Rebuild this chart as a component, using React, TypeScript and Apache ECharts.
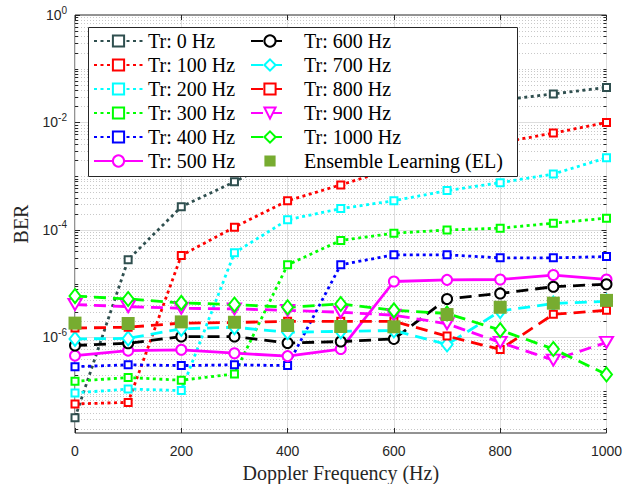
import React, { useEffect, useRef } from 'react';
import * as echarts from 'echarts';

// Doppler frequency (Hz)
const freq = [0, 100, 200, 300, 400, 500, 600, 700, 800, 900, 1000];

// BER values
const berTr0 = [3.2e-8, 2.8e-5, 2.7e-4, 7.9e-4, 2.5e-3, 6.0e-3, 1.1e-2, 1.7e-2, 2.6e-2, 3.4e-2, 4.5e-2];
const berTr100 = [5.8e-8, 6.2e-8, 3.35e-5, 1.13e-4, 3.5e-4, 6.9e-4, 1.4e-3, 2.5e-3, 4.2e-3, 6.35e-3, 1.0e-2];
const berTr200 = [9.3e-8, 1.1e-7, 1.03e-7, 3.76e-5, 1.55e-4, 2.5e-4, 3.5e-4, 5.4e-4, 7.6e-4, 1.1e-3, 2.2e-3];
const berTr300 = [1.53e-7, 1.8e-7, 1.6e-7, 2.1e-7, 2.25e-5, 6.4e-5, 8.7e-5, 1.0e-4, 1.08e-4, 1.34e-4, 1.66e-4];
const berTr400 = [2.86e-7, 3.1e-7, 3.0e-7, 3.1e-7, 3.0e-7, 2.25e-5, 3.45e-5, 3.45e-5, 3.03e-5, 3.03e-5, 3.2e-5];
const berTr500 = [4.6e-7, 5.7e-7, 5.9e-7, 5.1e-7, 4.5e-7, 6.1e-7, 1.1e-5, 1.18e-5, 1.2e-5, 1.45e-5, 1.2e-5];
const berTr600 = [7.1e-7, 7.8e-7, 1.04e-6, 1.04e-6, 7.9e-7, 8.4e-7, 9.4e-7, 5.2e-6, 6.6e-6, 8.8e-6, 9.8e-6];
const berTr700 = [9.4e-7, 9.6e-7, 1.45e-6, 1.55e-6, 1.25e-6, 1.3e-6, 1.35e-6, 7.4e-7, 3.1e-6, 4.3e-6, 4.7e-6];
const berTr800 = [1.5e-6, 1.55e-6, 1.85e-6, 1.9e-6, 2.0e-6, 2.0e-6, 2.0e-6, 1.06e-6, 6.0e-7, 2.7e-6, 3.2e-6];
const berTr900 = [4.1e-6, 3.75e-6, 3.5e-6, 3.4e-6, 3.2e-6, 2.95e-6, 2.6e-6, 1.8e-6, 8.1e-7, 3.8e-7, 8.1e-7];
const berTr1000 = [5.9e-6, 5.2e-6, 4.4e-6, 4.1e-6, 3.65e-6, 4.2e-6, 3.2e-6, 2.8e-6, 1.37e-6, 6.1e-7, 2.05e-7];
const berEL = [1.85e-6, 1.82e-6, 1.95e-6, 1.92e-6, 1.67e-6, 1.6e-6, 1.58e-6, 2.67e-6, 3.65e-6, 4.35e-6, 4.9e-6];

const seriesNames = [
  'Tr: 0 Hz', 'Tr: 100 Hz', 'Tr: 200 Hz', 'Tr: 300 Hz', 'Tr: 400 Hz', 'Tr: 500 Hz',
  'Tr: 600 Hz', 'Tr: 700 Hz', 'Tr: 800 Hz', 'Tr: 900 Hz', 'Tr: 1000 Hz', 'Ensemble Learning (EL)',
];

const xMin = 0;
const xMax = 1000;
const xStep = 200;
const yMin = 1.67e-8;
const yMax = 1;

const AXIS = '#262626';
const SERIF = '"Liberation Serif", "Times New Roman", serif';
const SANS = '"Liberation Sans", Arial, Helvetica, sans-serif';

const DOT: number[] = [3, 3.5];
const DASH: number[] = [12, 7];

export default function App() {
  const ref = useRef<HTMLDivElement>(null);

  useEffect(() => {
    if (!ref.current) return;
    const chart = echarts.init(ref.current, null, { renderer: 'svg' });

    const styles = [
      { data: berTr0, color: '#2F4F4F', dash: DOT, symbol: 'emptyRect', size: 7 },
      { data: berTr100, color: '#FF0000', dash: DOT, symbol: 'emptyRect', size: 7 },
      { data: berTr200, color: '#00FFFF', dash: DOT, symbol: 'emptyRect', size: 7 },
      { data: berTr300, color: '#00FF00', dash: DOT, symbol: 'emptyRect', size: 7 },
      { data: berTr400, color: '#0000FF', dash: DOT, symbol: 'emptyRect', size: 7 },
      { data: berTr500, color: '#FF00FF', dash: 'solid', symbol: 'emptyCircle', size: 10 },
      { data: berTr600, color: '#000000', dash: DASH, symbol: 'emptyCircle', size: 10 },
      { data: berTr700, color: '#00FFFF', dash: DASH, symbol: 'emptyDiamond', size: [11, 14] },
      { data: berTr800, color: '#FF0000', dash: DASH, symbol: 'emptyRect', size: 7 },
      { data: berTr900, color: '#FF00FF', dash: DASH, symbol: 'emptyTriangle', size: [13, 11], rotate: 180 },
      { data: berTr1000, color: '#00FF00', dash: DASH, symbol: 'emptyDiamond', size: [11, 14] },
    ];

    const lineSeries: any[] = styles.map((s, i) => ({
      name: seriesNames[i],
      type: 'line',
      data: freq.map((f, k) => [f, s.data[k]]),
      symbol: s.symbol,
      symbolSize: s.size,
      symbolRotate: (s as any).rotate || 0,
      showAllSymbol: true,
      color: s.color,
      lineStyle: { color: s.color, width: 2.8, type: s.dash as any, cap: 'butt' },
      itemStyle: { color: s.color, borderColor: s.color, borderWidth: s.symbol === 'emptyRect' ? 3 : 2.5 },
      z: 3,
      clip: false,
    }));

    lineSeries.push({
      name: seriesNames[11],
      type: 'line',
      data: freq.map((f, k) => [f, berEL[k]]),
      symbol: 'rect',
      symbolSize: 13,
      color: '#77AC30',
      lineStyle: { width: 0, opacity: 0 },
      itemStyle: { color: '#77AC30' },
      z: 3,
      clip: false,
    });

    // y grid / tick positions of a MATLAB log axis: every 1..9 x 10^k
    const yTickVals: number[][] = [];
    for (let d = -8; d <= 0; d++) {
      for (let m = 1; m <= 9; m++) {
        const v = m * Math.pow(10, d);
        if (v < yMin || v > yMax * 1.0001) continue;
        const major = m === 1 && d % 2 === 0 ? 1 : 0;
        yTickVals.push([xMin, v, major]);
      }
    }

    const gridSeries = {
      type: 'custom',
      silent: true,
      z: 1,
      clip: false,
      data: yTickVals,
      encode: { x: 0, y: 1 },
      renderItem: (_params: any, api: any) => {
        const v = api.value(1);
        const major = api.value(2) === 1;
        const p0 = api.coord([xMin, v]);
        const p1 = api.coord([xMax, v]);
        const y = Math.round(p0[1]) + 0.5;
        const tl = major ? 5 : 3;
        const children: any[] = [];
        if (v < yMax * 0.9999 && v > yMin * 1.0001) {
          children.push({
            type: 'line',
            shape: { x1: p0[0], y1: y, x2: p1[0], y2: y },
            style: major
              ? { stroke: '#dedede', lineWidth: 1 }
              : { stroke: '#c8c8c8', lineWidth: 1, lineDash: [1, 2] },
          });
        }
        children.push({
          type: 'line',
          shape: { x1: p0[0], y1: y, x2: p0[0] + tl, y2: y },
          style: { stroke: AXIS, lineWidth: 1 },
        });
        children.push({
          type: 'line',
          shape: { x1: p1[0] - tl, y1: y, x2: p1[0], y2: y },
          style: { stroke: AXIS, lineWidth: 1 },
        });
        return { type: 'group', children };
      },
    };

    const legendText = { fontFamily: SERIF, fontSize: 20, color: '#000' };

    const option: any = {
      animation: false,
      backgroundColor: '#fff',
      grid: {
        left: 75,
        right: 19.5,
        top: 15,
        bottom: 51,
        containLabel: false,
        outerBoundsMode: 'none',
        show: true,
        borderColor: AXIS,
        borderWidth: 1,
        backgroundColor: 'transparent',
      },
      xAxis: [
        {
          type: 'value',
          min: xMin,
          max: xMax,
          interval: xStep,
          position: 'bottom',
          name: 'Doppler Frequency (Hz)',
          nameLocation: 'middle',
          nameGap: 26,
          nameTextStyle: { fontFamily: SERIF, fontSize: 20, color: AXIS },
          axisLine: { show: false },
          axisTick: { show: true, inside: true, length: 5, lineStyle: { color: AXIS } },
          axisLabel: {
            fontFamily: SANS,
            fontSize: 14,
            color: AXIS,
            margin: 11,
            formatter: (v: number) => String(v),
          },
          splitLine: { show: true, lineStyle: { color: '#dedede', width: 1 } },
        },
        {
          type: 'value',
          min: xMin,
          max: xMax,
          interval: xStep,
          position: 'top',
          axisLine: { show: false },
          axisTick: { show: true, inside: true, length: 5, lineStyle: { color: AXIS } },
          axisLabel: { show: false },
          splitLine: { show: false },
        },
      ],
      yAxis: [
        {
          type: 'log',
          logBase: 10,
          min: yMin,
          max: yMax,
          name: 'BER',
          nameLocation: 'middle',
          nameGap: 44,
          nameTextStyle: { fontFamily: SERIF, fontSize: 20, color: AXIS },
          axisLine: { show: false },
          axisTick: { show: false },
          splitLine: { show: false },
          minorTick: { show: false },
          minorSplitLine: { show: false },
          axisLabel: {
            show: true,
            showMinLabel: false,
            margin: 8,
            color: AXIS,
            formatter: (v: number) => {
              const l = Math.log10(v);
              const e = Math.round(l);
              if (Math.abs(l - e) > 1e-6 || e % 2 !== 0) return '';
              return `{b|10}{s|${e}}`;
            },
            rich: {
              b: { fontFamily: SANS, fontSize: 14, color: AXIS },
              s: { fontFamily: SANS, fontSize: 10, color: AXIS, padding: [0, 0, 10, 0] },
            },
          },
        },
      ],
      legend: [
        {
          data: seriesNames.slice(0, 6),
          orient: 'vertical',
          left: 93,
          top: 31,
          padding: 0,
          itemWidth: 49,
          itemHeight: 14,
          itemGap: 4,
          selectedMode: false,
          textStyle: legendText,
          z: 6,
        },
        {
          data: seriesNames.slice(6, 12),
          orient: 'vertical',
          left: 250,
          top: 31,
          padding: 0,
          itemWidth: 38,
          itemHeight: 14,
          itemGap: 4,
          selectedMode: false,
          textStyle: { ...legendText, padding: [0, 0, 0, 10] },
          z: 6,
        },
      ],
      graphic: [
        {
          type: 'rect',
          z: 5,
          shape: { x: 88.5, y: 27.5, width: 429, height: 149 },
          style: { fill: '#fff', stroke: AXIS, lineWidth: 1 },
        },
      ],
      series: [gridSeries, ...lineSeries],
    };

    chart.setOption(option);
    return () => chart.dispose();
  }, []);

  return (
    <div
      ref={ref}
      style={{ position: 'fixed', left: 0, top: 0, width: 626, height: 484 }}
    />
  );
}
